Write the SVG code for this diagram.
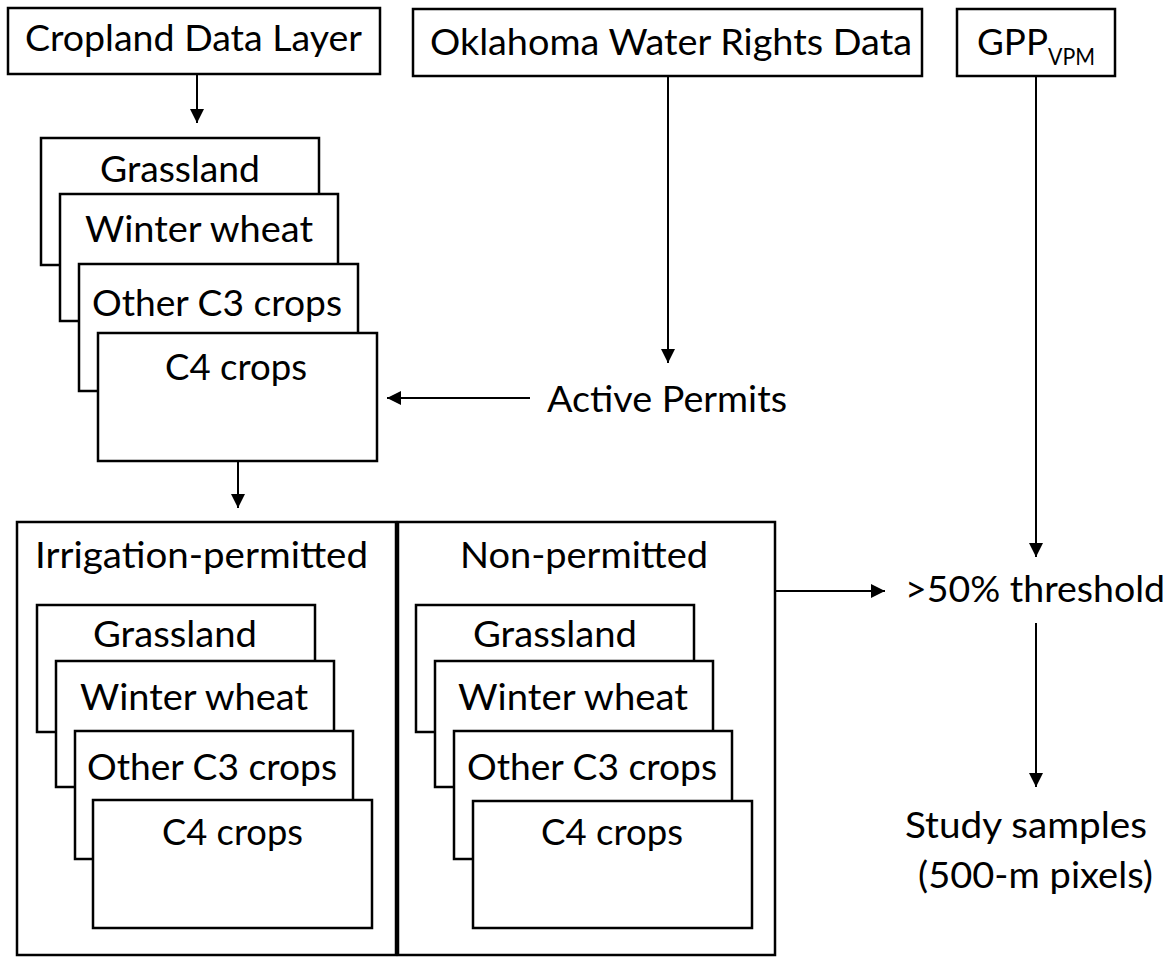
<svg xmlns="http://www.w3.org/2000/svg" width="1172" height="958" viewBox="0 0 1172 958">
<defs>
<style>
.b{fill:#fff;stroke:#000;stroke-width:2.5}
.t{font-family:Lato,"Liberation Sans",sans-serif;font-size:36px;fill:#000}
.c{fill:none;stroke:#000;stroke-width:2}
</style>
<marker id="ah" markerUnits="userSpaceOnUse" markerWidth="15" markerHeight="15" refX="14" refY="7" orient="auto"><path d="M0,0 L14,7 L0,14 z" fill="#000"/></marker>
</defs>
<rect width="1172" height="958" fill="#fff"/>
<g id="cropland"><rect class="b" x="8" y="8" width="372" height="66"/><text class="t" x="25" y="51" textLength="337" lengthAdjust="spacingAndGlyphs">Cropland Data Layer</text></g>
<g id="oklahoma"><rect class="b" x="413" y="9" width="509" height="67"/><text class="t" x="430" y="55" textLength="482" lengthAdjust="spacingAndGlyphs">Oklahoma Water Rights Data</text></g>
<g id="gpp"><rect class="b" x="957" y="9" width="158" height="67"/><text class="t" x="977" y="55"><tspan textLength="71" lengthAdjust="spacingAndGlyphs">GPP</tspan><tspan font-size="24" dy="10" textLength="47" lengthAdjust="spacingAndGlyphs">VPM</tspan></text></g>
<g id="stack-top">
<rect class="b" x="41" y="138" width="278" height="127"/><text class="t" x="100" y="182" textLength="160" lengthAdjust="spacingAndGlyphs">Grassland</text>
<rect class="b" x="60" y="194" width="278" height="127"/><text class="t" x="85" y="242" textLength="228" lengthAdjust="spacingAndGlyphs">Winter wheat</text>
<rect class="b" x="79" y="264" width="279" height="127"/><text class="t" x="92" y="316" textLength="250" lengthAdjust="spacingAndGlyphs">Other C3 crops</text>
<rect class="b" x="98" y="333" width="279" height="128"/><text class="t" x="165" y="380" textLength="142" lengthAdjust="spacingAndGlyphs">C4 crops</text>
</g>
<g id="active-permits"><text class="t" x="547" y="412" textLength="240" lengthAdjust="spacingAndGlyphs">Active Permits</text></g>
<g id="irrigation">
<rect class="b" x="17" y="522" width="379" height="433"/><text class="t" x="35" y="568" textLength="333" lengthAdjust="spacingAndGlyphs">Irrigation-permitted</text>
<rect class="b" x="37" y="605" width="278" height="127"/><text class="t" x="93" y="647" textLength="164" lengthAdjust="spacingAndGlyphs">Grassland</text>
<rect class="b" x="56" y="661" width="278" height="126"/><text class="t" x="80" y="710" textLength="228" lengthAdjust="spacingAndGlyphs">Winter wheat</text>
<rect class="b" x="75" y="731" width="278" height="128"/><text class="t" x="87" y="780" textLength="250" lengthAdjust="spacingAndGlyphs">Other C3 crops</text>
<rect class="b" x="93" y="800" width="279" height="128"/><text class="t" x="162" y="845" textLength="141" lengthAdjust="spacingAndGlyphs">C4 crops</text>
</g>
<g id="non-permitted">
<rect class="b" x="398" y="522" width="377" height="433"/><text class="t" x="460" y="568" textLength="248" lengthAdjust="spacingAndGlyphs">Non-permitted</text>
<rect class="b" x="416" y="605" width="278" height="127"/><text class="t" x="473" y="647" textLength="164" lengthAdjust="spacingAndGlyphs">Grassland</text>
<rect class="b" x="435" y="661" width="278" height="126"/><text class="t" x="458" y="710" textLength="230" lengthAdjust="spacingAndGlyphs">Winter wheat</text>
<rect class="b" x="454" y="731" width="278" height="128"/><text class="t" x="467" y="780" textLength="250" lengthAdjust="spacingAndGlyphs">Other C3 crops</text>
<rect class="b" x="473" y="801" width="279" height="127"/><text class="t" x="541" y="845" textLength="142" lengthAdjust="spacingAndGlyphs">C4 crops</text>
</g>
<g id="threshold"><text class="t" x="905" y="602" textLength="260" lengthAdjust="spacingAndGlyphs">&gt;50% threshold</text></g>
<g id="study"><text class="t" x="905" y="838" textLength="242" lengthAdjust="spacingAndGlyphs">Study samples</text><text class="t" x="918" y="888" textLength="235" lengthAdjust="spacingAndGlyphs">(500-m pixels)</text></g>
<g id="connectors">
<path class="c" d="M197,74 V123" marker-end="url(#ah)"/>
<path class="c" d="M668,76 V363" marker-end="url(#ah)"/>
<path class="c" d="M530,398 H387" marker-end="url(#ah)"/>
<path class="c" d="M238,461 V508" marker-end="url(#ah)"/>
<path class="c" d="M775,591 H885" marker-end="url(#ah)"/>
<path class="c" d="M1036,76 V557" marker-end="url(#ah)"/>
<path class="c" d="M1036,623 V787" marker-end="url(#ah)"/>
</g>
</svg>
